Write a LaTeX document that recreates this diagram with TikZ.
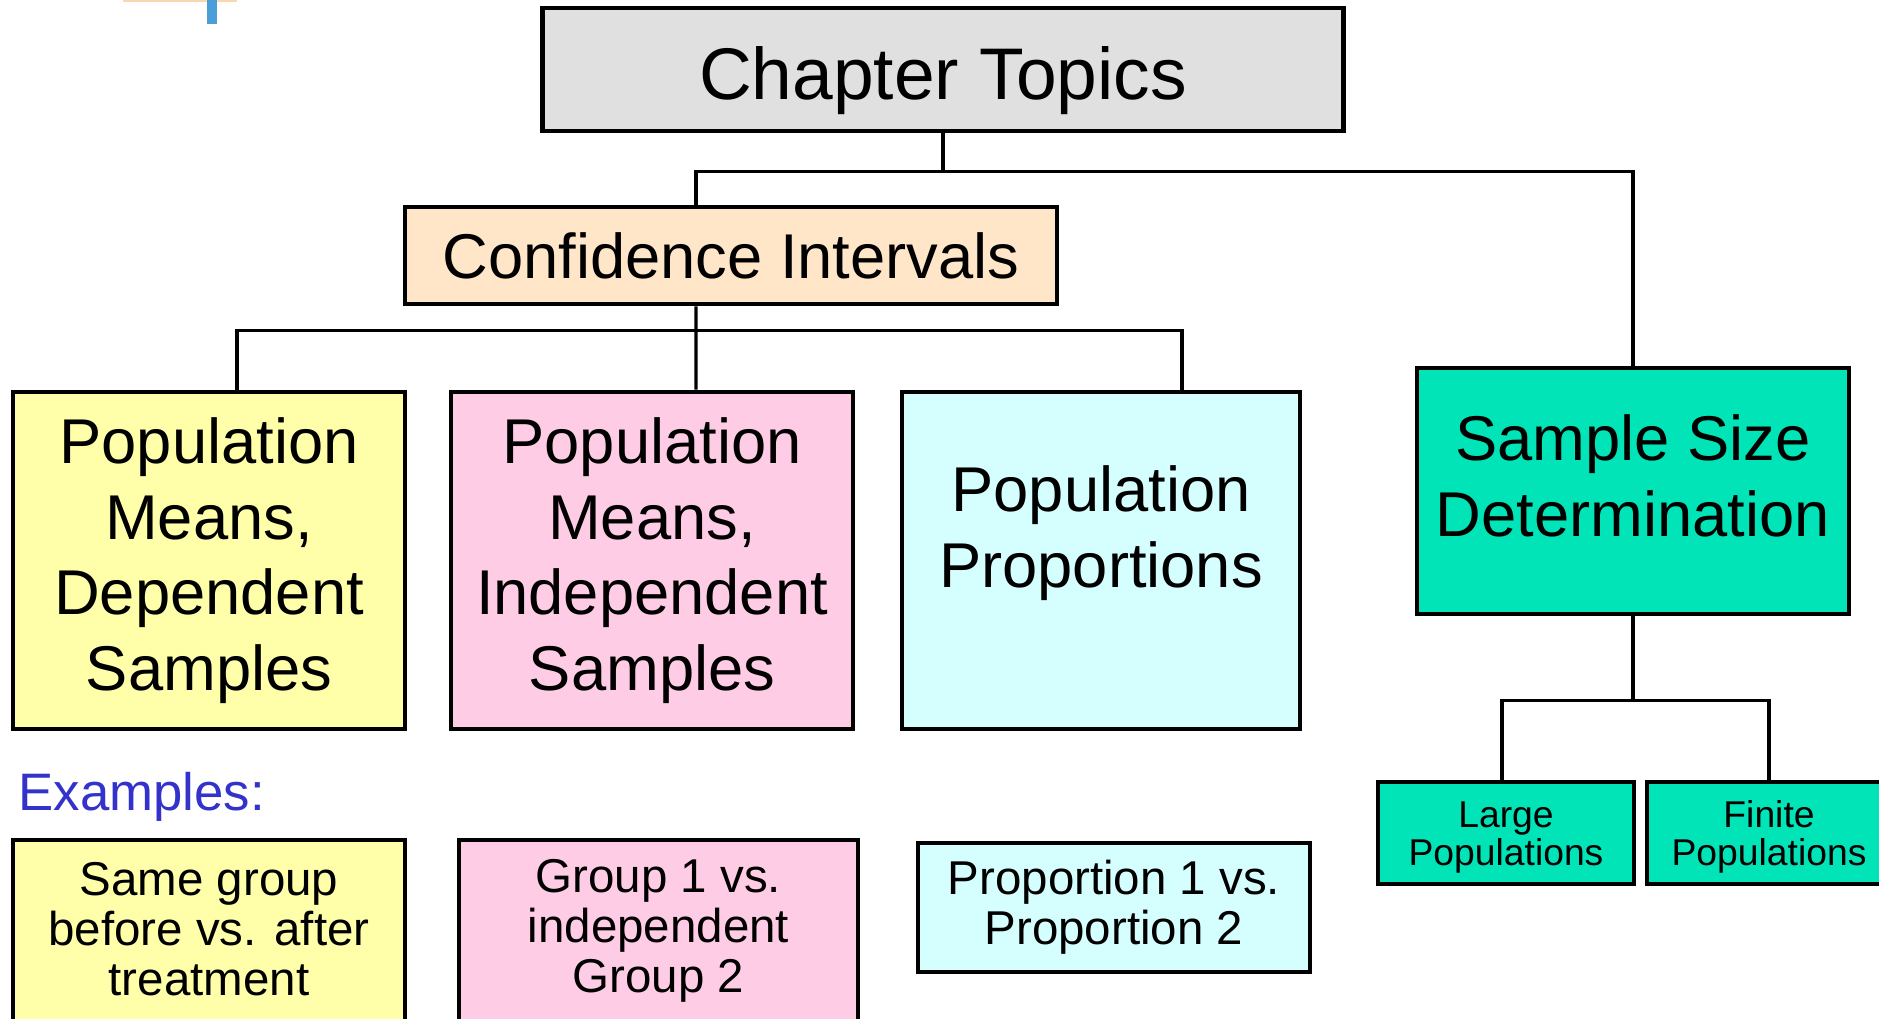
\documentclass[tikz,border=0pt]{standalone}
\usepackage{fontspec}
\setmainfont{Liberation Sans}
\usepackage{xcolor}
\usetikzlibrary{positioning,calc}
\definecolor{topicgray}{HTML}{E0E0E0}
\definecolor{peach}{HTML}{FFE6C8}
\definecolor{paleyellow}{HTML}{FFFFAA}
\definecolor{palepink}{HTML}{FFCCE6}
\definecolor{palecyan}{HTML}{D5FFFF}
\definecolor{seagreen}{HTML}{00E4B8}
\definecolor{exblue}{HTML}{3333CC}
\definecolor{stubblue}{HTML}{4A9FD8}
\definecolor{stuborange}{HTML}{FAD7B0}
\tikzset{
    chartbox/.style={draw=black,line width=1.3pt,inner sep=2pt,align=center,text=black},
    topicbox/.style={chartbox,fill=topicgray,minimum width=8cm,minimum height=1.23cm,
      text height=0.75cm,text depth=0.15cm,font=\fontsize{20.8}{25}\selectfont},
    cibox/.style={chartbox,fill=peach,minimum width=6.52cm,minimum height=0.97cm,
      font=\fontsize{18}{21.5}\selectfont},
    bigbox/.style={chartbox,minimum height=3.37cm,
      font=\fontsize{18}{21.5}\selectfont},
    examplebox/.style={chartbox,font=\fontsize{13.5}{14.2}\selectfont},
    smallbox/.style={chartbox,fill=seagreen,minimum height=1.02cm,
      text height=0.7cm,text depth=0.06cm,font=\fontsize{10.6}{10.8}\selectfont},
    link/.style={draw=black,line width=0.95pt}
}
\begin{document}
\begin{tikzpicture}[x=0.01cm,y=-0.01cm]
  \useasboundingbox (0,0) rectangle (1879,1019);
  % cut-off marks at the top edge
  \fill[stuborange] (123,0) rectangle (237,2);
  \fill[stubblue] (207,0) rectangle (217,24);

  % tree
  \node[topicbox] (topics) at (943,69.5) {Chapter Topics};
  \node[cibox] (ci) at (731,255.5) {Confidence Intervals};
  \node[bigbox,fill=seagreen,minimum width=4.32cm,minimum height=2.46cm,
    text height=1.0cm,text depth=0.09cm] (ssd) at (1633,491) {Sample Size\\Determination};
  \node[bigbox,fill=paleyellow,minimum width=3.92cm] (pmd) at (209,560.5)
    {Population\\Means,\\Dependent\\Samples};
  \node[bigbox,fill=palepink,minimum width=4.02cm] (pmi) at (652,560.5)
    {Population\\Means,\\Independent\\Samples};
  \node[bigbox,fill=palecyan,minimum width=3.98cm,text height=0.6cm,text depth=0.06cm]
    (pp) at (1101,560.5) {Population\\Proportions};
  \node[smallbox,minimum width=2.56cm] (large) at (1506,833) {Large\\Populations};
  \node[smallbox,minimum width=2.44cm] (finite) at (1769,833) {Finite\\Populations};

  \draw[link] (topics.south) -- ++(0,38) coordinate (j1);
  \draw[link] ([xshift=-0.35cm]ci.north) |- (j1) -| (ssd.north);
  \draw[link] ([xshift=-0.35cm]ci.south) -- ([xshift=0.44cm]pmi.north);
  \path ([xshift=-0.35cm]ci.south) ++(0,24) coordinate (j2);
  \draw[link] ([xshift=0.28cm]pmd.north) |- (j2) -| ([xshift=0.81cm]pp.north);
  \draw[link] (ssd.south) -- ++(0,84) coordinate (j3);
  \draw[link] ([xshift=-0.04cm]large.north) |- (j3) -| (finite.north);

  % examples
  \node[anchor=base west,inner sep=0pt,text=exblue,font=\fontsize{15}{18}\selectfont]
    (examples) at (18,810) {Examples:};
  \node[examplebox,fill=paleyellow,minimum width=3.92cm,minimum height=1.82cm,
    text height=1.3cm,text depth=0.02cm] (exd) at (209,931) {Same group\\before vs. after\\treatment};
  \node[examplebox,fill=palepink,minimum width=3.99cm,minimum height=1.82cm]
    (exi) at (658.5,931) {Group 1 vs.\\independent\\Group 2};
  \node[examplebox,fill=palecyan,minimum width=3.92cm,minimum height=1.29cm]
    (exp) at (1114,907.5) {Proportion 1 vs.\\Proportion 2};
\end{tikzpicture}
\end{document}
